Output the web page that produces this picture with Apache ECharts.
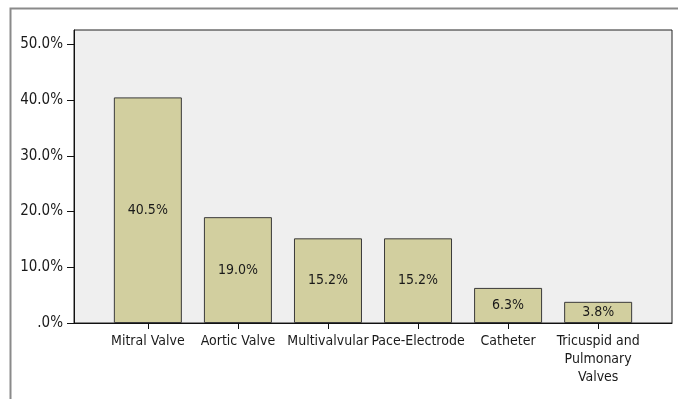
<!DOCTYPE html>
<html>
<head>
<meta charset="utf-8">
<script src="https://cdn.jsdelivr.net/npm/echarts@6/dist/echarts.min.js"></script>
<style>
html,body{margin:0;padding:0;background:#fff;}
#c{width:678px;height:399px;}
</style>
</head>
<body>
<div id="c"></div>
<script>
var categories = ['Mitral Valve', 'Aortic Valve', 'Multivalvular', 'Pace-Electrode', 'Catheter', 'Tricuspid and\nPulmonary\nValves'];
var values = [40.5, 19.0, 15.2, 15.2, 6.3, 3.8];
var yTicks = [0, 10, 20, 30, 40, 50];

var FONT = "'Liberation Sans Narrow', 'DejaVu Sans Condensed', 'Roboto', sans-serif";
var chart = echarts.init(document.getElementById('c'), null, {renderer: 'canvas'});
var catIdx = categories.map(function (c, i) { return i; });
var option = {
  animation: false,
  backgroundColor: '#ffffff',
  graphic: [{
    type: 'rect', left: 8, top: 6, z: -10, silent: true,
    shape: {width: 720, height: 420},
    style: {fill: 'none', stroke: '#8a8a8a', lineWidth: 2}
  }],
  grid: {
    left: 74, top: 30, right: 6, bottom: 76,
    show: true, backgroundColor: '#efefef', borderColor: '#222', borderWidth: 1
  },
  xAxis: {
    type: 'value', min: -0.82, max: 5.82,
    splitLine: {show: false},
    axisLine: {show: true, onZero: false, lineStyle: {color: '#111', width: 1}},
    axisTick: {show: true, customValues: catIdx, length: 6, lineStyle: {color: '#111'}},
    axisLabel: {
      customValues: catIdx, margin: 9,
      fontFamily: FONT, fontSize: 14, color: '#1a1a1a', lineHeight: 18,
      formatter: function (v) { return categories[Math.round(v)]; }
    }
  },
  yAxis: {
    type: 'value', min: 0, max: 52.6,
    splitLine: {show: false},
    axisLine: {show: true, onZero: false, lineStyle: {color: '#111'}},
    axisTick: {show: true, customValues: yTicks, length: 7, lineStyle: {color: '#111'}},
    axisLabel: {
      customValues: yTicks, margin: 11,
      fontFamily: FONT, fontSize: 15, color: '#1a1a1a',
      formatter: function (v) { return v === 0 ? '.0%' : v.toFixed(1) + '%'; }
    }
  },
  series: [{
    type: 'bar',
    barWidth: 68,
    data: values.map(function (v, i) { return [i, v]; }),
    itemStyle: {color: '#d2cf9f', borderColor: '#3a3a3a', borderWidth: 1},
    label: {
      show: true, position: 'inside',
      fontFamily: FONT, fontSize: 14, color: '#1a1a1a',
      formatter: function (p) { return p.value[1].toFixed(1) + '%'; }
    }
  }]
};
chart.setOption(option);
</script>
</body>
</html>
